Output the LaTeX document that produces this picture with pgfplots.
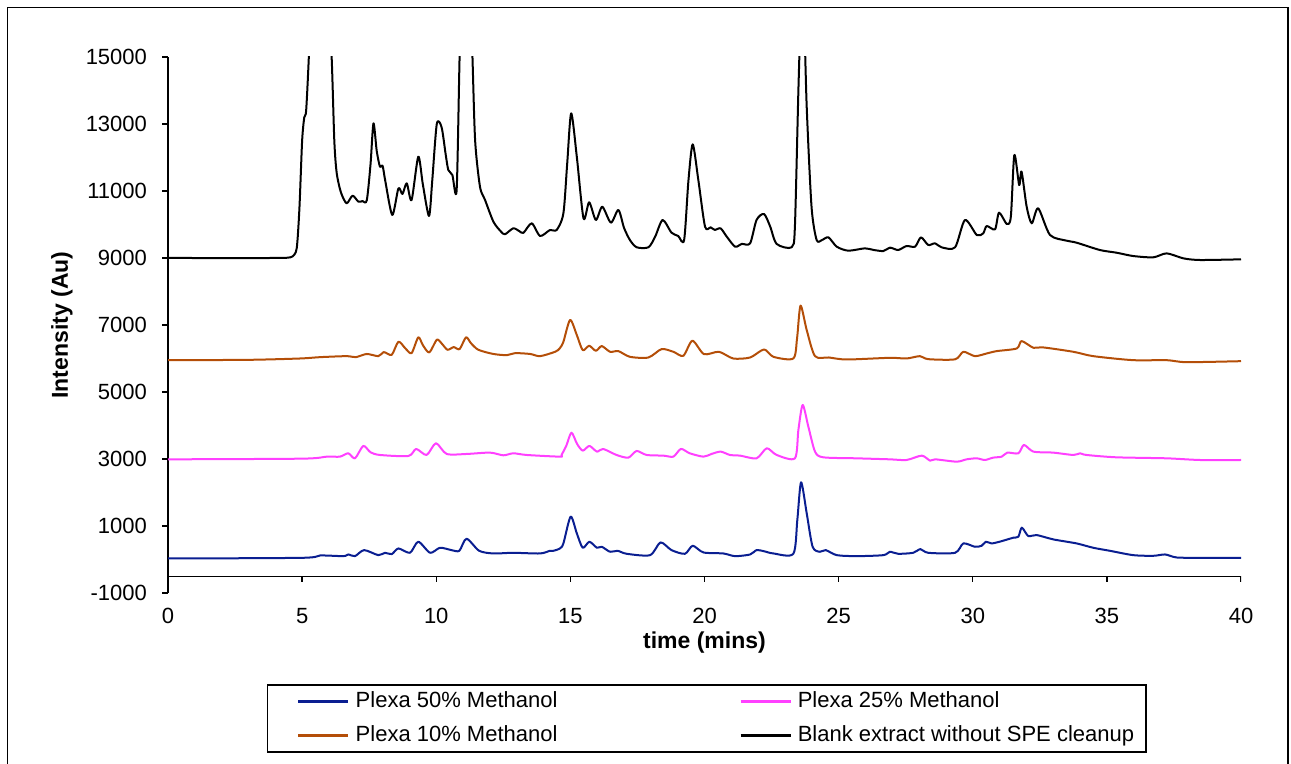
\documentclass[border=0pt]{standalone}
\usepackage{pgfplots}
\pgfplotsset{compat=1.18}
\usepackage{pgfplotstable}
\usepackage{fontspec}
\setmainfont{Liberation Sans}
\definecolor{cblue}{RGB}{10,30,145}
\definecolor{cpink}{RGB}{255,64,255}
\definecolor{cbrown}{RGB}{180,78,8}

\pgfplotstableread{
t v
0 9000
4.0 9000
4.45 9010
4.65 9050
4.8 9300
4.9 10500
5.0 12500
5.08 13200
5.15 13400
5.25 15000
5.4 18000
5.7 22000
5.95 17000
6.1 15000
6.2 12500
6.29 11530
6.45 10950
6.66 10633
6.88 10860
7.10 10680
7.25 10700
7.41 10720
7.55 11800
7.66 13020
7.78 12200
7.90 11730
8.0 11750
8.1 11300
8.36 10284
8.59 11080
8.74 10910
8.90 11230
9.08 10730
9.33 12024
9.5 11200
9.73 10254
9.85 11300
10.02 13000
10.2 12900
10.35 12100
10.45 11627
10.6 11480
10.76 11030
10.87 15000
11.0 19000
11.2 19000
11.35 15000
11.45 12500
11.63 11130
11.82 10730
12.13 10085
12.4 9800
12.56 9707
12.87 9886
13.1 9800
13.25 9750
13.56 10035
13.87 9657
14.24 9836
14.49 9836
14.74 10334
14.88 11800
15.03 13318
15.24 12020
15.49 10184
15.70 10663
15.95 10134
16.19 10530
16.51 10055
16.79 10433
17.0 9900
17.22 9537
17.47 9320
17.91 9320
18.16 9636
18.44 10134
18.77 9756
19.02 9657
19.24 9537
19.40 11300
19.56 12393
19.77 11328
20.02 9935
20.23 9915
20.39 9836
20.60 9886
20.83 9636
21.14 9338
21.39 9420
21.70 9437
21.94 10134
22.22 10313
22.45 9935
22.69 9420
23.25 9320
23.37 9935
23.50 14000
23.60 16500
23.70 16500
23.81 13515
23.99 10530
24.18 9537
24.38 9537
24.62 9616
24.93 9338
25.36 9218
25.98 9288
26.30 9240
26.67 9208
26.92 9308
27.22 9238
27.53 9357
27.85 9338
28.07 9616
28.34 9388
28.59 9437
28.84 9318
29.34 9318
29.71 10134
30.15 9686
30.39 9736
30.52 9955
30.83 9856
30.98 10353
31.27 10015
31.42 10234
31.55 12075
31.73 11180
31.82 11577
32.01 10530
32.20 10035
32.44 10483
32.88 9686
33.50 9517
33.87 9457
34.74 9238
35.36 9158
35.98 9059
36.73 9020
37.23 9138
37.85 8990
38.47 8940
40.0 8960
}\blank

\pgfplotstableread{
t v
0 5950
3.0 5960
4.92 6000
5.67 6040
6.66 6070
7.0 6040
7.41 6135
7.84 6070
8.05 6190
8.34 6110
8.59 6500
8.85 6300
9.08 6160
9.33 6632
9.5 6400
9.74 6180
10.02 6560
10.2 6450
10.42 6260
10.65 6340
10.87 6280
11.11 6632
11.3 6450
11.57 6260
12.13 6135
12.63 6100
12.94 6160
13.5 6135
13.87 6070
14.43 6200
14.6 6300
14.74 6500
14.99 7150
15.24 6700
15.46 6250
15.70 6380
15.95 6230
16.17 6370
16.48 6200
16.79 6220
17.22 6050
17.91 6030
18.40 6280
18.84 6200
19.21 6080
19.55 6530
19.98 6130
20.54 6200
21.07 6000
21.70 6030
22.22 6270
22.57 6050
23.31 6000
23.45 6600
23.58 7577
23.81 6850
24.12 6070
24.64 6030
25.30 5970
26.91 6020
27.53 6000
28.03 6070
28.34 5980
29.34 5975
29.65 6200
30.08 6070
30.52 6150
30.89 6220
31.64 6300
31.82 6520
32.26 6320
32.63 6330
33.75 6200
34.49 6070
35.98 5950
37.23 5950
37.97 5890
40 5920
}\ten

\pgfplotstableread{
t v
0 2990
5.0 3010
5.92 3070
6.41 3070
6.72 3170
6.97 3020
7.28 3390
7.55 3200
7.90 3120
8.96 3090
9.25 3300
9.64 3120
9.99 3470
10.39 3150
11.13 3150
12.0 3190
12.5 3110
12.87 3170
13.37 3120
14.61 3070
14.67 3120
14.85 3400
15.04 3785
15.25 3450
15.46 3250
15.71 3390
15.99 3220
16.22 3300
16.72 3120
17.16 3040
17.47 3240
17.84 3120
18.47 3100
18.84 3070
19.12 3300
19.45 3170
19.96 3070
20.26 3150
20.60 3220
20.95 3120
21.33 3100
21.94 3020
22.32 3320
22.69 3120
23.37 3020
23.50 3870
23.66 4612
23.87 3970
24.12 3220
24.43 3050
25.67 3020
26.91 2990
27.53 2970
28.10 3100
28.41 2950
28.6 2990
29.40 2920
29.77 2990
30.15 3020
30.45 2970
30.76 3040
31.08 3070
31.29 3190
31.70 3170
31.91 3420
32.26 3220
33.0 3190
33.75 3120
34.0 3170
34.24 3120
35.36 3050
37.23 3020
38.47 2970
40 2970
}\twentyfive

\pgfplotstableread{
t v
0 30
5.0 50
5.67 120
6.54 100
6.72 150
6.97 100
7.31 280
7.84 130
8.09 200
8.34 160
8.59 330
9.02 200
9.33 530
9.77 200
10.14 350
10.57 280
10.86 260
11.13 620
11.60 260
12.13 180
12.87 200
13.87 180
14.24 260
14.37 260
14.61 330
14.74 480
15.01 1278
15.24 780
15.46 350
15.71 530
15.99 350
16.17 380
16.48 230
16.76 260
17.10 170
17.97 130
18.36 510
18.77 280
19.27 170
19.56 410
19.96 210
20.7 180
21.14 100
21.70 150
21.94 280
22.2 250
22.57 180
23.31 170
23.46 1180
23.60 2305
23.81 1380
24.03 380
24.30 230
24.52 280
24.93 130
25.67 100
26.67 130
26.91 230
27.22 170
27.78 200
28.05 310
28.34 200
29.34 200
29.65 480
30.08 380
30.33 410
30.49 530
30.7 480
31.0 530
31.51 650
31.70 680
31.83 950
32.07 700
32.38 730
33.0 600
33.87 480
34.49 350
35.11 260
35.98 130
36.73 110
37.17 150
37.60 60
38.47 50
40 50
}\fifty

\begin{document}
\begin{tikzpicture}
\begin{axis}[
  at={(84pt,85.5pt)}, anchor=south west,
  scale only axis, width=536.5pt, height=268pt,
  xmin=0, xmax=40, ymin=-1000, ymax=15000,
  scaled y ticks=false, scaled x ticks=false,
  axis y line=left, axis x line=bottom,
  axis line style={-, line width=0.7pt},
  x axis line style={draw=none},
  xtick={0,5,10,15,20,25,30,35,40},
  xticklabels={0,5,10,15,20,25,30,35,40},
  ytick={-1000,1000,3000,5000,7000,9000,11000,13000,15000},
  yticklabels={-1000,1000,3000,5000,7000,9000,11000,13000,15000},
  tick align=outside, major tick length=3pt,
  y tick style={black, line width=0.7pt},
  x tick style={draw=none},
  tick label style={font=\fontsize{11}{13}\selectfont},
  yticklabel style={xshift=-4pt},
  xticklabel style={yshift=-1pt},
  xlabel={\bfseries time (mins)},
  ylabel={\bfseries Intensity (Au)},
  label style={font=\fontsize{11.5}{13}\selectfont},
  xlabel style={at={(axis description cs:0.5,-0.0933)}, anchor=center},
  ylabel style={at={(axis description cs:-0.0988,0.5)}, anchor=center},
  legend columns=2,
  legend style={at={(axis description cs:0.092,-0.1703)}, anchor=north west,
    draw=black, line width=0.7pt, inner xsep=6pt, inner ysep=3pt,
    font=\fontsize{11}{13}\selectfont,
    nodes={inner sep=0pt, text height=8.2pt, text depth=2.3pt},
    row sep=6.5pt,
    /tikz/every odd column/.append style={column sep=3pt},
    /tikz/every even column/.append style={column sep=82pt}},
  legend cell align=left,
  legend image code/.code={\path (-9pt,0pt); \draw[#1, line width=1.3pt] (0pt,0pt) -- (25pt,0pt);},
  every axis plot/.append style={line width=1pt, line join=round, smooth, tension=0.45},
]
\addplot[cblue, no markers] table[x=t,y=v] {\fifty};
\addlegendentry{Plexa 50\% Methanol}
\addplot[cpink, no markers] table[x=t,y=v] {\twentyfive};
\addlegendentry{Plexa 25\% Methanol}
\addplot[cbrown, no markers] table[x=t,y=v] {\ten};
\addlegendentry{Plexa 10\% Methanol}
\addplot[black, no markers] table[x=t,y=v] {\blank};
\addlegendentry{Blank extract without SPE cleanup}
\draw[line width=0.7pt] (axis cs:0,-500) -- (axis cs:40,-500);
\pgfplotsinvokeforeach{0,5,10,15,20,25,30,35,40}{\draw[line width=0.7pt] (axis cs:#1,-500) -- ([yshift=-3pt]axis cs:#1,-500);}
\end{axis}
\draw[line width=0.9pt] (3.75pt,-10pt) -- (3.75pt,378.25pt) -- (643.85pt,378.25pt) -- (643.85pt,-10pt);
\pgfresetboundingbox
\useasboundingbox (0,0) rectangle (645.5pt,382pt);
\end{tikzpicture}
\end{document}
